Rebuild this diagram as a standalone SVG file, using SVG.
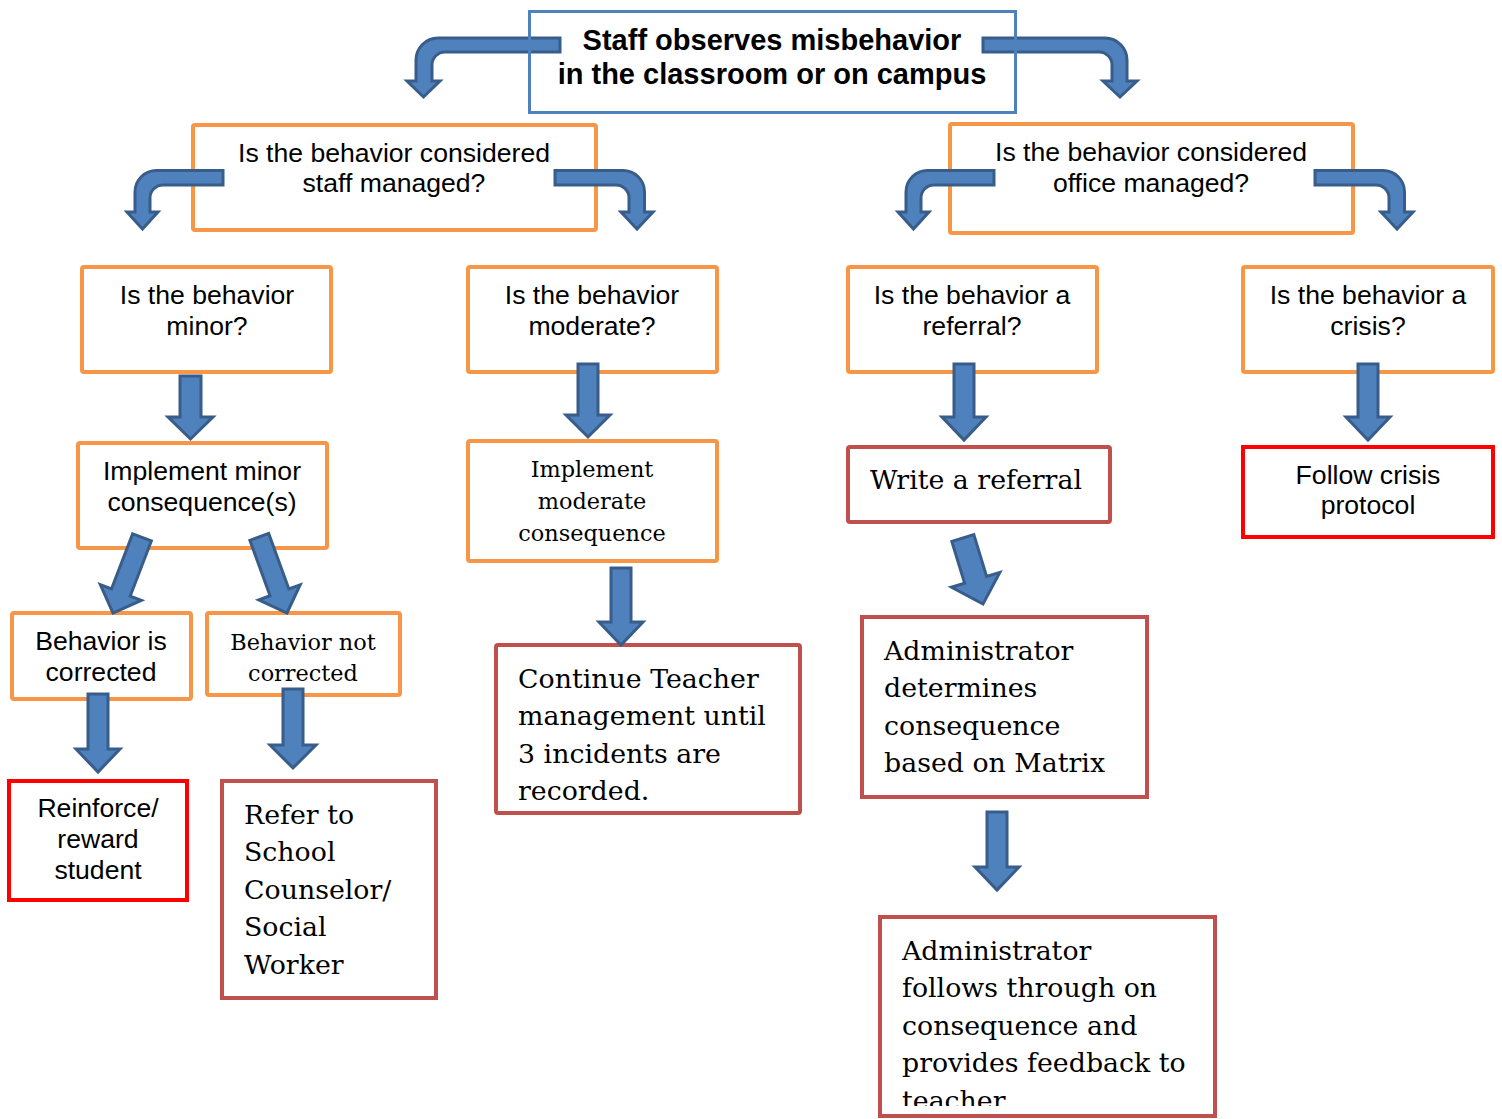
<svg xmlns="http://www.w3.org/2000/svg" xmlns:xlink="http://www.w3.org/1999/xlink" width="1502" height="1119" viewBox="0 0 1502 1119">
  <style>
    .box { fill: #ffffff; stroke-width: 4; }
    .blue { fill: none; stroke: #4F81BD; stroke-width: 3; }
    .orange { stroke: #F79646; }
    .dred { stroke: #C0504D; }
    .red { stroke: #FF0000; }
    .arrow { fill: #4F81BD; stroke: #385D8A; stroke-width: 3; stroke-linejoin: miter; }
    .sans { font-family: "Liberation Sans", Arial, sans-serif; font-size: 26.6px; fill: #000; }
    .title { font-family: "Liberation Sans", Arial, sans-serif; font-size: 29px; font-weight: bold; fill: #000; }
    .serif { font-family: "DejaVu Serif", "Liberation Serif", serif; font-size: 26.8px; fill: #000; }
    .serif-s { font-family: "DejaVu Serif", "Liberation Serif", serif; font-size: 22.4px; fill: #000; }
    .mid { text-anchor: middle; }
  </style>
  <defs>
    <!-- bent arrow turning down to the left, tip at (0,0) -->
    <path id="bendL" d="M 80.5,-58.5 V -44 H 20.5 A 13 13 0 0 0 7.5 -31 V -17 H 15.5 L 0 0 L -15.5 -17 H -7.5 V -37 A 21.5 21.5 0 0 1 14 -58.5 Z"/>
    <!-- bent arrow turning down to the right, tip at (0,0) -->
    <path id="bendR" d="M -82,-58.5 H -14 A 21.5 21.5 0 0 1 7.5 -37 V -17 H 16 L 0 0 L -16 -17 H -8 V -31 A 13 13 0 0 0 -21 -44 H -82 Z"/>
    <!-- straight block arrows pointing down, tip at (0,0) -->
    <path id="down81" d="M -10,-81 H 10 V -22 H 22 L 0 0 L -22 -22 H -10 Z"/>
    <path id="down60" d="M -10,-60 H 10 V -22 H 22 L 0 0 L -22 -22 H -10 Z"/>
    <clipPath id="clipLast">
      <rect x="881" y="918" width="333" height="188"/>
    </clipPath>
  </defs>

  <!-- nodes -->
  <g id="staff-managed">
    <rect class="box orange" x="193" y="125" width="403" height="105" rx="2"/>
    <text class="sans mid" x="394" y="162">Is the behavior considered</text>
    <text class="sans mid" x="394" y="192">staff managed?</text>
  </g>

  <g id="office-managed">
    <rect class="box orange" x="950" y="124" width="403" height="109" rx="2"/>
    <text class="sans mid" x="1151" y="161">Is the behavior considered</text>
    <text class="sans mid" x="1151" y="192">office managed?</text>
  </g>

  <g id="minor">
    <rect class="box orange" x="82" y="267" width="249" height="105" rx="2"/>
    <text class="sans mid" x="207" y="304">Is the behavior</text>
    <text class="sans mid" x="207" y="335">minor?</text>
  </g>

  <g id="moderate">
    <rect class="box orange" x="468" y="267" width="249" height="105" rx="2"/>
    <text class="sans mid" x="592" y="304">Is the behavior</text>
    <text class="sans mid" x="592" y="335">moderate?</text>
  </g>

  <g id="referral">
    <rect class="box orange" x="848" y="267" width="249" height="105" rx="2"/>
    <text class="sans mid" x="972" y="304">Is the behavior a</text>
    <text class="sans mid" x="972" y="335">referral?</text>
  </g>

  <g id="crisis">
    <rect class="box orange" x="1243" y="267" width="250" height="105" rx="2"/>
    <text class="sans mid" x="1368" y="304">Is the behavior a</text>
    <text class="sans mid" x="1368" y="335">crisis?</text>
  </g>

  <g id="minor-consequence">
    <rect class="box orange" x="78" y="443" width="249" height="105" rx="2"/>
    <text class="sans mid" x="202" y="480">Implement minor</text>
    <text class="sans mid" x="202" y="511">consequence(s)</text>
  </g>

  <g id="moderate-consequence">
    <rect class="box orange" x="468" y="441" width="249" height="120" rx="2"/>
    <text class="serif-s mid" x="592" y="477">Implement</text>
    <text class="serif-s mid" x="592" y="509">moderate</text>
    <text class="serif-s mid" x="592" y="541">consequence</text>
  </g>

  <g id="write-referral">
    <rect class="box dred" x="848" y="447" width="262" height="75" rx="2"/>
    <text class="serif" x="870" y="489">Write a referral</text>
  </g>

  <g id="crisis-protocol">
    <rect class="box red" x="1243" y="447" width="250" height="90"/>
    <text class="sans mid" x="1368" y="484">Follow crisis</text>
    <text class="sans mid" x="1368" y="514">protocol</text>
  </g>

  <g id="corrected">
    <rect class="box orange" x="12" y="613" width="179" height="86" rx="2"/>
    <text class="sans mid" x="101" y="650">Behavior is</text>
    <text class="sans mid" x="101" y="681">corrected</text>
  </g>

  <g id="not-corrected">
    <rect class="box orange" x="207" y="613" width="193" height="82" rx="2"/>
    <text class="serif-s mid" x="303" y="650">Behavior not</text>
    <text class="serif-s mid" x="303" y="681">corrected</text>
  </g>

  <g id="reinforce">
    <rect class="box red" x="9" y="781" width="178" height="119"/>
    <text class="sans mid" x="98" y="817">Reinforce/</text>
    <text class="sans mid" x="98" y="848">reward</text>
    <text class="sans mid" x="98" y="879">student</text>
  </g>

  <g id="counselor">
    <rect class="box dred" x="222" y="781" width="214" height="217"/>
    <text class="serif" x="244" y="824">Refer to</text>
    <text class="serif" x="244" y="861">School</text>
    <text class="serif" x="244" y="899">Counselor/</text>
    <text class="serif" x="244" y="936">Social</text>
    <text class="serif" x="244" y="974">Worker</text>
  </g>

  <g id="teacher-management">
    <rect class="box dred" x="496" y="645" width="304" height="168" rx="2"/>
    <text class="serif" x="518" y="688">Continue Teacher</text>
    <text class="serif" x="518" y="725">management until</text>
    <text class="serif" x="518" y="763">3 incidents are</text>
    <text class="serif" x="518" y="800">recorded.</text>
  </g>

  <g id="admin-determines">
    <rect class="box dred" x="862" y="617" width="285" height="180"/>
    <text class="serif" x="884" y="660">Administrator</text>
    <text class="serif" x="884" y="697">determines</text>
    <text class="serif" x="884" y="735">consequence</text>
    <text class="serif" x="884" y="772">based on Matrix</text>
  </g>

  <g id="admin-follows">
    <rect class="box dred" x="880" y="917" width="335" height="199"/>
    <g clip-path="url(#clipLast)">
      <text class="serif" x="902" y="960">Administrator</text>
      <text class="serif" x="902" y="997">follows through on</text>
      <text class="serif" x="902" y="1035">consequence and</text>
      <text class="serif" x="902" y="1072">provides feedback to</text>
      <text class="serif" x="902" y="1110">teacher</text>
    </g>
  </g>

  <!-- connectors (block arrows drawn over the box edges) -->
  <g id="connectors">
    <!-- from the top box -->
    <path class="arrow" d="M 560,38 V 52 H 445 A 13 13 0 0 0 432 65 V 81 H 440 L 423.5 97 L 407 81 H 416 V 60 A 22 22 0 0 1 438 38 Z"/>
    <path class="arrow" d="M 983,38 H 1105 A 22 22 0 0 1 1127 60 V 81 H 1137 L 1120 97 L 1103 81 H 1112 V 65 A 13 13 0 0 0 1099 52 H 983 Z"/>
    <!-- from the second row -->
    <use class="arrow" xlink:href="#bendL" href="#bendL" transform="translate(142.5,229)"/>
    <use class="arrow" xlink:href="#bendR" href="#bendR" transform="translate(637,229)"/>
    <use class="arrow" xlink:href="#bendL" href="#bendL" transform="translate(913.5,229)"/>
    <use class="arrow" xlink:href="#bendR" href="#bendR" transform="translate(1397,229)"/>
    <!-- straight arrows -->
    <path class="arrow" d="M 180,376 H 201 V 417 H 213 L 190.5 439 L 168 417 H 180 Z"/>
    <path class="arrow" d="M 578,364 H 598 V 415 H 610 L 588 437 L 566 415 H 578 Z"/>
    <path class="arrow" d="M 954,364 H 974 V 417 H 986 L 964 440 L 942 417 H 954 Z"/>
    <path class="arrow" d="M 1358,364 H 1378 V 417 H 1390 L 1368 440 L 1346 417 H 1358 Z"/>
    <path class="arrow" d="M 611,568 H 631 V 622 H 643 L 621 645 L 599 622 H 611 Z"/>
    <path class="arrow" d="M 88,694 H 108 V 749 H 120 L 98 772 L 76 749 H 88 Z"/>
    <path class="arrow" d="M 283,689 H 303 V 745 H 316 L 293 768 L 270 745 H 283 Z"/>
    <path class="arrow" d="M 987,812 H 1007 V 867 H 1019 L 997 890 L 975 867 H 987 Z"/>
    <!-- diagonal arrows -->
    <use class="arrow" xlink:href="#down81" href="#down81" transform="translate(113,613) rotate(21)"/>
    <use class="arrow" xlink:href="#down81" href="#down81" transform="translate(287,613) rotate(-20)"/>
    <use class="arrow" xlink:href="#down60" href="#down60" transform="translate(983,604) rotate(-17) scale(1.15)" style="stroke-width:2.6"/>
  </g>

  <!-- top box: outline only, its border runs across the two arrow tails -->
  <g id="start">
    <rect class="blue" x="529.5" y="11.5" width="486" height="101"/>
    <text class="title mid" x="772" y="50">Staff observes misbehavior</text>
    <text class="title mid" x="772" y="84">in the classroom or on campus</text>
  </g>
</svg>
